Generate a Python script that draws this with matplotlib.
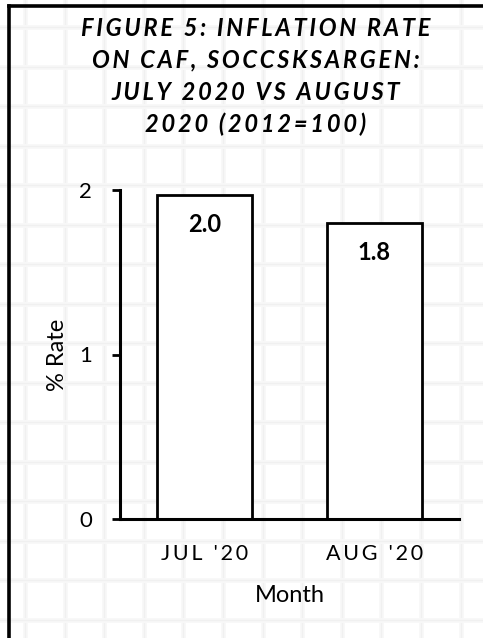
import matplotlib
matplotlib.use("Agg")
import matplotlib.pyplot as plt
from matplotlib.lines import Line2D

plt.rcParams['font.family'] = ['Lato', 'DejaVu Sans']

months = ["JUL '20", "AUG '20"]
rates = [1.97, 1.80]
yticks = [0, 1, 2]
title_lines = ["FIGURE 5: INFLATION RATE", "ON CAF, SOCCSKSARGEN:",
               "JULY 2020 VS AUGUST", "2020 (2012=100)"]


def spaced(s, sp="\u200a"):
    return sp.join(s)


W, H = 483, 638
fig = plt.figure(figsize=(W / 100, H / 100), dpi=100)
fig.patch.set_facecolor("white")

# graph-paper background
for k in range(13):
    x = (25 + 39.6 * k) / W
    fig.add_artist(Line2D([x, x], [0, 1], transform=fig.transFigure, color="#f8f8f8", lw=3.5, zorder=0))
    fig.add_artist(Line2D([x, x], [0, 1], transform=fig.transFigure, color="#f0f0f0", lw=1, zorder=0))
for k in range(17):
    y = 1 - (27 + 39.5 * k) / H
    fig.add_artist(Line2D([0, 1], [y, y], transform=fig.transFigure, color="#f8f8f8", lw=3.5, zorder=0))
    fig.add_artist(Line2D([0, 1], [y, y], transform=fig.transFigure, color="#f0f0f0", lw=1, zorder=0))

# outer border (left and top visible)
fig.add_artist(Line2D([9 / W, 9 / W], [0, 1 - 6 / H], transform=fig.transFigure, color="black", lw=2.6, zorder=1))
fig.add_artist(Line2D([9 / W, 1], [1 - 6 / H, 1 - 6 / H], transform=fig.transFigure, color="black", lw=2.6, zorder=1))

ax = fig.add_axes([120 / W, 1 - 519 / H, 339 / W, 329 / H])
ax.patch.set_alpha(0)
ax.set_zorder(2)

bars = ax.bar(range(len(months)), rates, width=0.56, color="white", edgecolor="black", linewidth=2)
for b, v in zip(bars, rates):
    ax.annotate(f"{v:.1f}", (b.get_x() + b.get_width() / 2, v), xytext=(0, -21),
                textcoords="offset points", ha="center", va="center",
                fontsize=17, fontweight="bold")

ax.set_xlim(-0.5, 1.5)
ax.set_ylim(0, 2)
ax.set_yticks(yticks)
ax.set_yticklabels([str(t) for t in yticks], fontsize=16)
ax.set_xticks(range(len(months)))
ax.set_xticklabels([spaced(m, "\u2009") for m in months], fontsize=15.5)
ax.tick_params(axis="x", length=0, pad=18)
ax.tick_params(axis="y", length=6, width=2, pad=14)
for s in ["top", "right"]:
    ax.spines[s].set_visible(False)
for s in ["left", "bottom"]:
    ax.spines[s].set_linewidth(2.2)
ax.set_ylabel("% Rate", fontsize=17, labelpad=8)
ax.set_xlabel("Month", fontsize=17, labelpad=15)

for i, line in enumerate(title_lines):
    fig.text(256 / W, 1 - (28 + 32 * i) / H, spaced(line, "\u2009"), ha="center", va="center",
             fontsize=17, fontweight="bold", fontstyle="italic")

fig.savefig("out.png", dpi=100)
